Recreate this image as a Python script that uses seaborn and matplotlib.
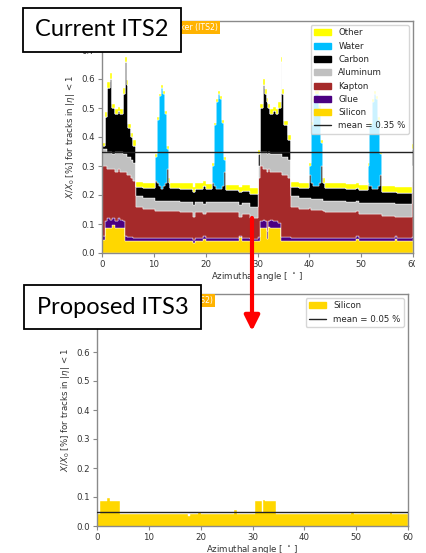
import numpy as np
import matplotlib
matplotlib.use("Agg")
import matplotlib.pyplot as plt
import seaborn as sns
from matplotlib.patches import Patch, Rectangle, FancyArrowPatch
from matplotlib.lines import Line2D

# ---------------- data ----------------
# azimuthal bin edges [deg]
edges = [0, 0.5, 1.0, 1.5, 2.0, 2.5, 3.0, 3.5, 4.0, 4.5, 4.8, 5.0, 5.5, 6.0, 6.5,
         8.0, 10.3, 10.6, 11.0, 11.4, 11.8, 12.2, 12.6, 12.9, 13.2, 15.0, 17.5,
         18.0, 19.5, 20.0, 21.3, 21.6, 22.0, 22.4, 22.8, 23.2, 23.6, 24.0, 26.5,
         27.0, 28.5, 30.0, 30.5, 31.0, 31.5, 31.8, 32.0, 32.5, 33.0, 33.5, 34.0,
         34.5, 34.8, 35.2, 35.8, 36.5, 38.0, 40.0, 40.3, 40.7, 41.1, 41.5, 41.9,
         42.3, 42.7, 43.0, 47.0, 49.0, 49.5, 51.3, 51.6, 52.0, 52.4, 52.8, 53.2,
         53.6, 54.0, 56.5, 57.0, 59.8, 60.0]

silicon = [.045, .085, .085, .085, .095, .085, .085, .085, .085, .042,
           .042, .042, .042, .042, .042, .042, .042, .042, .042, .042,
           .042, .042, .042, .042, .042, .042, .035, .042, .050, .042,
           .042, .042, .042, .042, .042, .042, .042, .042, .055, .042,
           .042, .042, .085, .085, .085, .050, .088, .085, .085, .085,
           .085, .042, .042, .042, .042, .042, .042, .042, .042, .042,
           .042, .042, .042, .042, .042, .042, .042, .050, .042, .042,
           .042, .042, .042, .042, .042, .042, .042, .050, .042, .042]

glue = [.015, .025, .035, .030, .025, .025, .035, .030, .025, .018,
        .013, .013, .013, .010, .010, .010, .010, .010, .010, .010,
        .010, .010, .010, .010, .010, .010, .010, .010, .008, .010,
        .010, .010, .010, .010, .010, .010, .010, .010, .005, .010,
        .008, .013, .025, .030, .025, .025, .022, .030, .025, .025,
        .020, .013, .013, .013, .013, .010, .010, .010, .010, .010,
        .010, .010, .010, .010, .010, .010, .010, .008, .010, .010,
        .010, .010, .010, .010, .010, .010, .010, .008, .010, .013]

kapton = [.240, .190, .170, .175, .170, .170, .170, .165, .170, .220,
          .215, .215, .205, .198, .106, .100, .093, .093, .093, .093,
          .093, .093, .093, .093, .093, .088, .080, .088, .077, .088,
          .088, .088, .088, .088, .088, .088, .088, .088, .065, .083,
          .072, .205, .190, .175, .180, .205, .180, .165, .170, .170,
          .175, .225, .215, .215, .205, .106, .100, .103, .098, .098,
          .098, .098, .098, .098, .093, .091, .088, .087, .083, .083,
          .083, .083, .083, .083, .083, .083, .076, .067, .073, .195]

aluminum = [.060, .060, .060, .060, .050, .070, .060, .070, .060, .060,
            .060, .060, .060, .060, .037, .038, .035, .035, .035, .035,
            .035, .035, .035, .035, .035, .037, .040, .037, .035, .035,
            .035, .035, .035, .035, .035, .035, .035, .035, .040, .037,
            .038, .040, .050, .060, .060, .060, .060, .060, .060, .060,
            .060, .060, .060, .060, .060, .037, .036, .035, .035, .035,
            .035, .035, .035, .035, .035, .035, .035, .035, .037, .037,
            .037, .037, .037, .037, .037, .037, .044, .043, .043, .050]

carbon = [.010, .110, .220, .250, .160, .130, .140, .130, .210, .320,
          .250, .100, .080, .060, .033, .035, .070, .060, .050, .040,
          .050, .060, .110, .060, .045, .045, .045, .045, .060, .045,
          .065, .055, .045, .045, .045, .055, .105, .043, .045, .043,
          .045, .040, .150, .230, .200, .180, .150, .140, .150, .140,
          .160, .320, .220, .110, .070, .033, .037, .080, .055, .045,
          .045, .045, .055, .115, .060, .046, .045, .045, .045, .068,
          .058, .048, .048, .048, .058, .098, .040, .042, .040, .060]

water = [0, 0, 0, 0, 0, 0, 0, 0, 0, 0,
         0, 0, 0, 0, 0, 0, .080, .220, .310, .350,
         .320, .240, .070, 0, 0, 0, 0, 0, 0, 0,
         .060, .210, .300, .330, .310, .220, .040, 0, 0, 0,
         0, 0, 0, 0, 0, 0, 0, 0, 0, 0,
         0, 0, 0, 0, 0, 0, 0, .030, .200, .290,
         .320, .320, .260, .080, 0, 0, 0, 0, 0, .060,
         .210, .300, .330, .310, .230, .070, 0, 0, 0, 0]

other = [.010, .015, .020, .020, .015, .015, .015, .015, .020, .015,
         .015, .015, .015, .018, .018, .018, .010, .010, .010, .010,
         .010, .010, .010, .018, .018, .018, .018, .018, .018, .018,
         .010, .010, .010, .010, .010, .010, .010, .018, .018, .018,
         .018, .015, .015, .020, .015, .015, .015, .015, .015, .015,
         .020, .015, .015, .015, .018, .018, .018, .010, .010, .010,
         .010, .010, .010, .010, .018, .018, .018, .018, .018, .010,
         .010, .010, .010, .010, .010, .010, .018, .018, .018, .015]

its3_silicon = [.042, .085, .085, .085, .095, .085, .085, .085, .085, .042,
                .042, .042, .042, .042, .042, .042, .042, .042, .042, .042,
                .042, .042, .042, .042, .042, .042, .035, .042, .050, .042,
                .042, .042, .042, .042, .042, .042, .042, .042, .055, .042,
                .042, .042, .085, .085, .085, .050, .088, .085, .085, .085,
                .085, .042, .042, .042, .042, .042, .042, .042, .042, .042,
                .042, .042, .042, .042, .042, .042, .042, .050, .042, .042,
                .042, .042, .042, .042, .042, .042, .042, .050, .042, .042]

its2_mean = 0.35
its3_mean = 0.047
its2_mean_label = "mean = 0.35 %"
its3_mean_label = "mean = 0.05 %"

materials = ["Silicon", "Glue", "Kapton", "Aluminum", "Carbon", "Water", "Other"]
series = {"Silicon": silicon, "Glue": glue, "Kapton": kapton, "Aluminum": aluminum,
          "Carbon": carbon, "Water": water, "Other": other}
colors = {"Silicon": "#FFD700", "Glue": "#4B0082", "Kapton": "#A52A2A",
          "Aluminum": "#C0C0C0", "Carbon": "#000000", "Water": "#00BFFF",
          "Other": "#FFFF00"}

xticks = [0, 10, 20, 30, 40, 50, 60]
yticks = [0.0, 0.1, 0.2, 0.3, 0.4, 0.5, 0.6, 0.7]

# ---------------- style ----------------
sns.set_theme(style="ticks")
plt.rcParams['font.family'] = ['DejaVu Sans']
plt.rcParams['mathtext.fontset'] = 'dejavusans'
FS = 6.2

W, H = 426, 553
fig = plt.figure(figsize=(W / 100, H / 100), dpi=100)
fig.patch.set_facecolor("white")


def px_axes(l, r, t, b):
    return fig.add_axes([l / W, 1 - b / H, (r - l) / W, (b - t) / H])


ax1 = px_axes(102, 413, 21, 253)
ax2 = px_axes(97, 408, 294, 526)

edges_a = np.array(edges)


def style_axis(ax):
    ax.set_xlim(0, 60)
    ax.set_ylim(0, 0.8)
    ax.set_xticks(xticks)
    ax.set_yticks(yticks)
    ax.set_yticklabels([f"{v:.1f}" for v in yticks])
    ax.tick_params(labelsize=FS, colors="#333333", length=3, width=0.8,
                   pad=2)
    ax.tick_params(color="#888888")
    for s in ax.spines.values():
        s.set_color("#8a8a8a")
        s.set_linewidth(1.0)
        s.set_visible(True)
    ax.set_xlabel(r"Azimuthal angle [ $^\circ$ ]", fontsize=FS, color="#333333",
                  labelpad=0.5)
    ax.set_ylabel(r"$X/X_0$ [%] for tracks in $|\eta|$ < 1", fontsize=FS,
                  color="#333333", labelpad=3)
    ax.set_facecolor("white")
    ax.text(0.372, 0.99, "ALICE Inner Tracker (ITS2)", transform=ax.transAxes,
            ha="right", va="top", fontsize=5.6, color="white",
            bbox=dict(boxstyle="square,pad=0.25", fc="#FFB300", ec="none"),
            zorder=6)


# ---- top panel: stacked material budget
base = np.zeros(len(silicon))
for m in materials:
    vals = np.array(series[m], dtype=float)
    ax1.stairs(base + vals, edges_a, baseline=base.copy(), fill=True,
               color=colors[m], lw=0.3, zorder=2)
    base = base + vals
ax1.axhline(its2_mean, color="#222222", lw=1.0, zorder=4)
style_axis(ax1)
handles = [Patch(color=colors[m], label=m) for m in materials[::-1]]
handles.append(Line2D([], [], color="#222222", lw=1.0, label=its2_mean_label))
leg = ax1.legend(handles=handles, loc="upper right", fontsize=FS,
                 framealpha=0.8, borderaxespad=0.45, handlelength=2.0,
                 labelspacing=0.5, borderpad=0.4)
leg.set_zorder(7)

# ---- bottom panel: ITS3 silicon only
ax2.stairs(np.array(its3_silicon), edges_a, baseline=0, fill=True,
           color=colors["Silicon"], lw=0.3, zorder=2)
ax2.axhline(its3_mean, color="#222222", lw=1.0, zorder=4)
style_axis(ax2)
h2 = [Patch(color=colors["Silicon"], label="Silicon"),
      Line2D([], [], color="#222222", lw=1.0, label=its3_mean_label)]
leg2 = ax2.legend(handles=h2, loc="upper right", fontsize=FS, framealpha=0.8,
                  borderaxespad=0.45, handlelength=2.0, labelspacing=0.5,
                  borderpad=0.4)
leg2.set_zorder(7)

# cropped right edge of the top screenshot
fig.add_artist(Rectangle((415 / W, 1 - 285 / H), 11 / W, 285 / H,
                         transform=fig.transFigure, fc="white", ec="none",
                         zorder=5))

# ---- red arrow between the panels
arrow = FancyArrowPatch((252 / W, 1 - 218 / H), (252 / W, 1 - 331 / H),
                        transform=fig.transFigure,
                        arrowstyle="-|>,head_length=0.9,head_width=0.45",
                        mutation_scale=10, lw=3.0, color="#FF0000",
                        shrinkA=0, shrinkB=0, zorder=8)
fig.add_artist(arrow)


# ---- slide labels
def label_box(x0, x1, y0, y1, text):
    fig.add_artist(Rectangle((x0 / W, 1 - y1 / H), (x1 - x0) / W, (y1 - y0) / H,
                             transform=fig.transFigure, fc="white", ec="black",
                             lw=1.3, zorder=9))
    fig.text((x0 + x1) / 2 / W, 1 - (y0 + y1) / 2 / H, text, ha="center",
             va="center", fontsize=17, family=["Lato", "DejaVu Sans"],
             color="black", zorder=10)


label_box(23, 181, 8, 52, "Current ITS2")
label_box(24, 201, 285, 329, "Proposed ITS3")

fig.savefig("out.png", dpi=100, facecolor="white")
